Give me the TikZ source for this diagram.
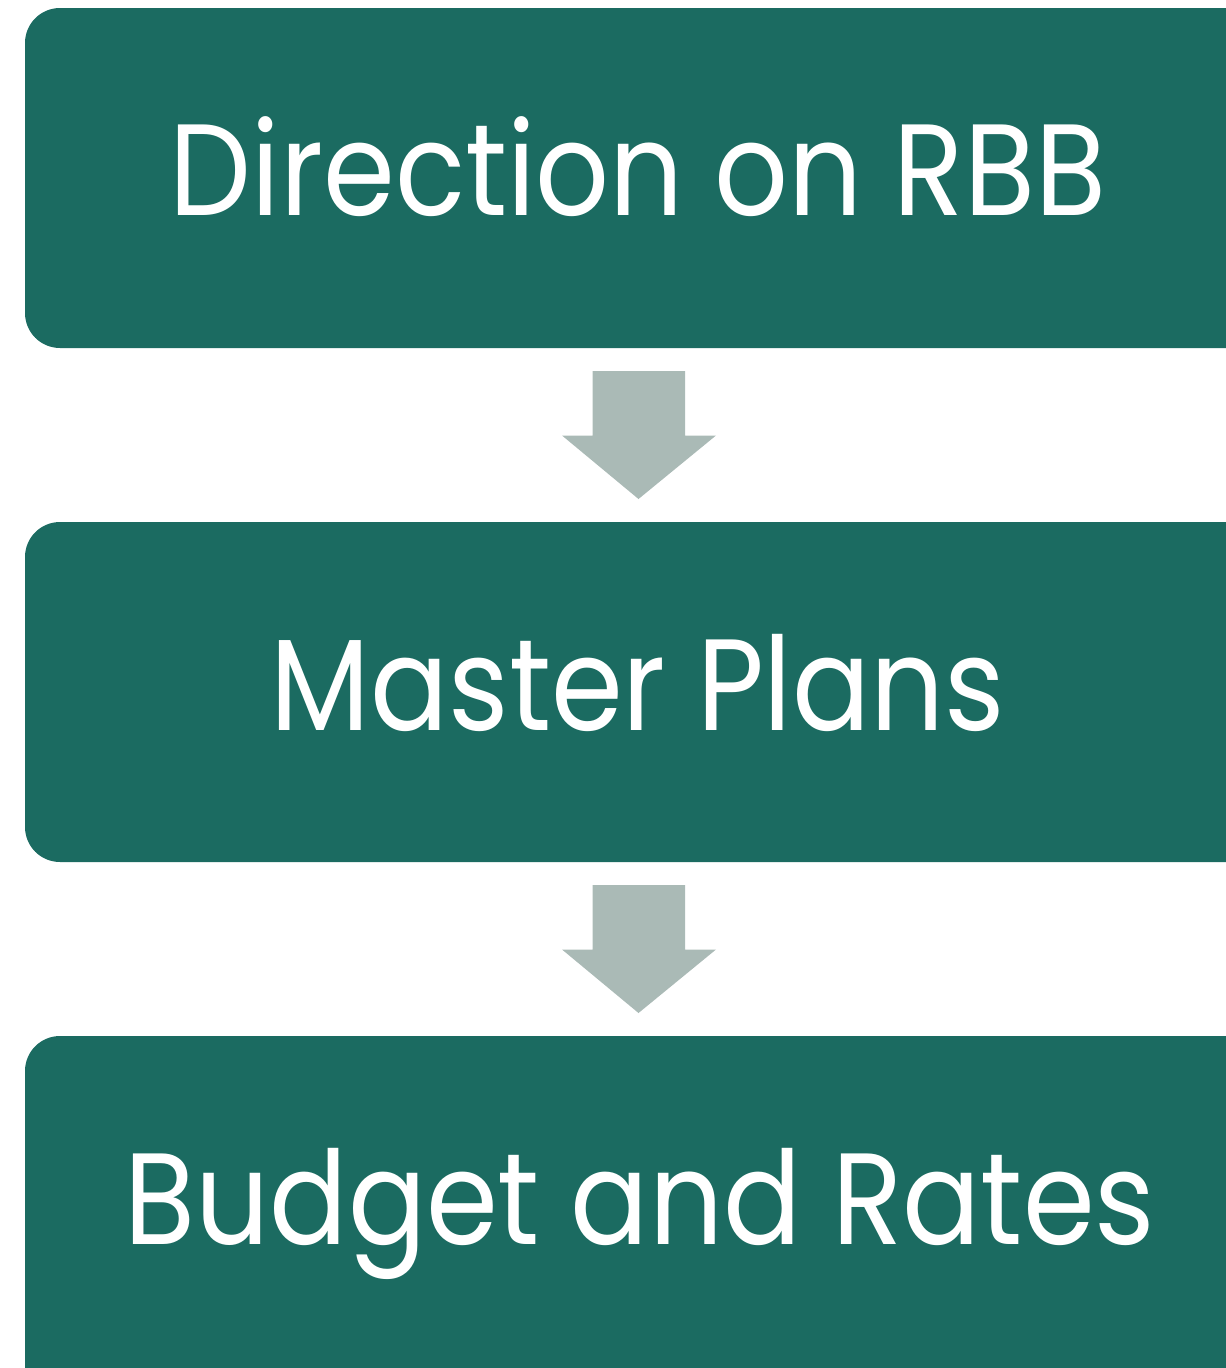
\documentclass[tikz,border=0pt]{standalone}
\usepackage{fontspec}
\setmainfont{Poppins}[FakeStretch=0.89]
\definecolor{boxteal}{HTML}{1B6B61}
\definecolor{arrowgrey}{HTML}{AABAB6}
\tikzset{
  stepbox/.style={fill=boxteal, draw=none, rounded corners=35pt},
  lbl/.style={text=white, anchor=base, inner sep=0pt, font=\fontsize{130}{140}\selectfont},
  downarrow/.style={fill=arrowgrey, draw=none}
}
\begin{document}
\begin{tikzpicture}[x=1pt,y=-1pt]
\useasboundingbox (0,0) rectangle (1226,1368);
\clip (0,0) rectangle (1226,1368);
\fill[stepbox] (25,8) rectangle (1262,348);
\fill[stepbox] (25,522) rectangle (1262,862);
\fill[stepbox] (25,1036) rectangle (1262,1400);
\node[lbl] (t1) at (638,215) {Direction on RBB};
\node[lbl] (t2) at (638,730) {Master Plans};
\node[lbl] (t3) at (640,1244) {Budget and Rates};
\fill[downarrow] (592.5,371) -- (685,371) -- (685,435.5) -- (716,435.5) -- (638.5,499) -- (562,435.5) -- (592.5,435.5) -- cycle;
\fill[downarrow] (592.5,885) -- (685,885) -- (685,949.5) -- (716,949.5) -- (638.5,1013) -- (562,949.5) -- (592.5,949.5) -- cycle;
\end{tikzpicture}
\end{document}
